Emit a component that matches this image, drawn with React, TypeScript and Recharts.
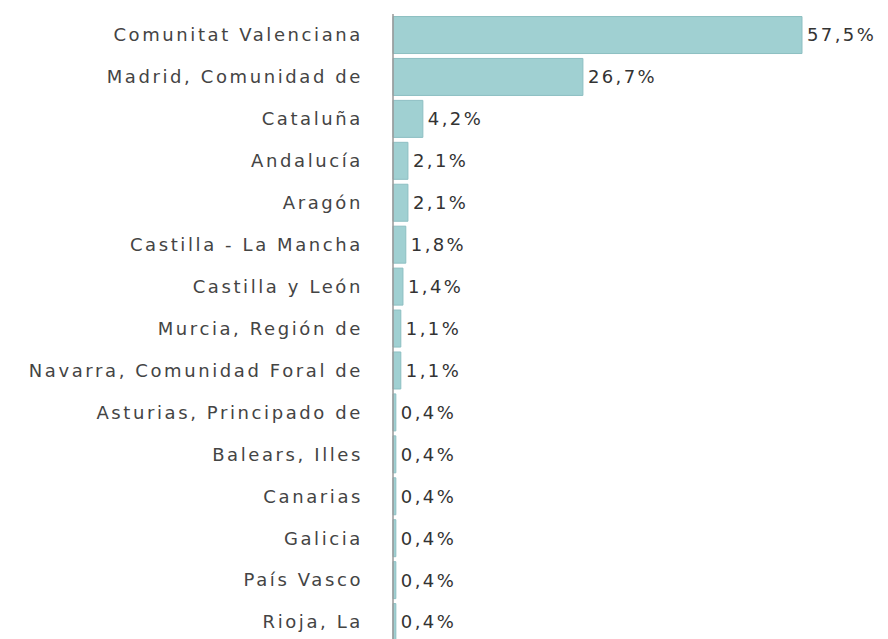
import { Bar, BarChart, LabelList, XAxis, YAxis } from "recharts";

const regions = [
  "Comunitat Valenciana",
  "Madrid, Comunidad de",
  "Cataluña",
  "Andalucía",
  "Aragón",
  "Castilla - La Mancha",
  "Castilla y León",
  "Murcia, Región de",
  "Navarra, Comunidad Foral de",
  "Asturias, Principado de",
  "Balears, Illes",
  "Canarias",
  "Galicia",
  "País Vasco",
  "Rioja, La",
];

const shares = [57.5, 26.7, 4.2, 2.1, 2.1, 1.8, 1.4, 1.1, 1.1, 0.4, 0.4, 0.4, 0.4, 0.4, 0.4];

const data = regions.map((region, i) => ({ region, share: shares[i] }));

const FONT = "'DejaVu Sans', Verdana, sans-serif";

const fmt = (v: number) => v.toFixed(1).replace(".", ",") + "%";

export default function App() {
  return (
    <div style={{ position: "absolute", left: 0, top: 0, width: 888, height: 639, overflow: "hidden", background: "#fff" }}>
      <BarChart
        width={888}
        height={643}
        data={data}
        layout="vertical"
        margin={{ top: 14, right: 86, bottom: 0, left: 0 }}
        barCategoryGap="6%"
      >
        <XAxis type="number" hide domain={[0, 57.5]} />
        <YAxis
          type="category"
          dataKey="region"
          width={393}
          tickLine={false}
          tickSize={0}
          tickMargin={30}
          axisLine={{ stroke: "#999", strokeWidth: 1.5 }}
          tick={{ fontSize: 18, fill: "#444", fontFamily: FONT, letterSpacing: 2.6 }}
          interval={0}
        />
        <Bar dataKey="share" fill="#a0d0d2" stroke="#8dbfc2" strokeWidth={1} isAnimationActive={false}>
          <LabelList
            dataKey="share"
            position="right"
            offset={5}
            formatter={(v: number) => fmt(v)}
            style={{ fontSize: 18, fill: "#333", fontFamily: FONT, letterSpacing: 2.4 }}
          />
        </Bar>
      </BarChart>
    </div>
  );
}
